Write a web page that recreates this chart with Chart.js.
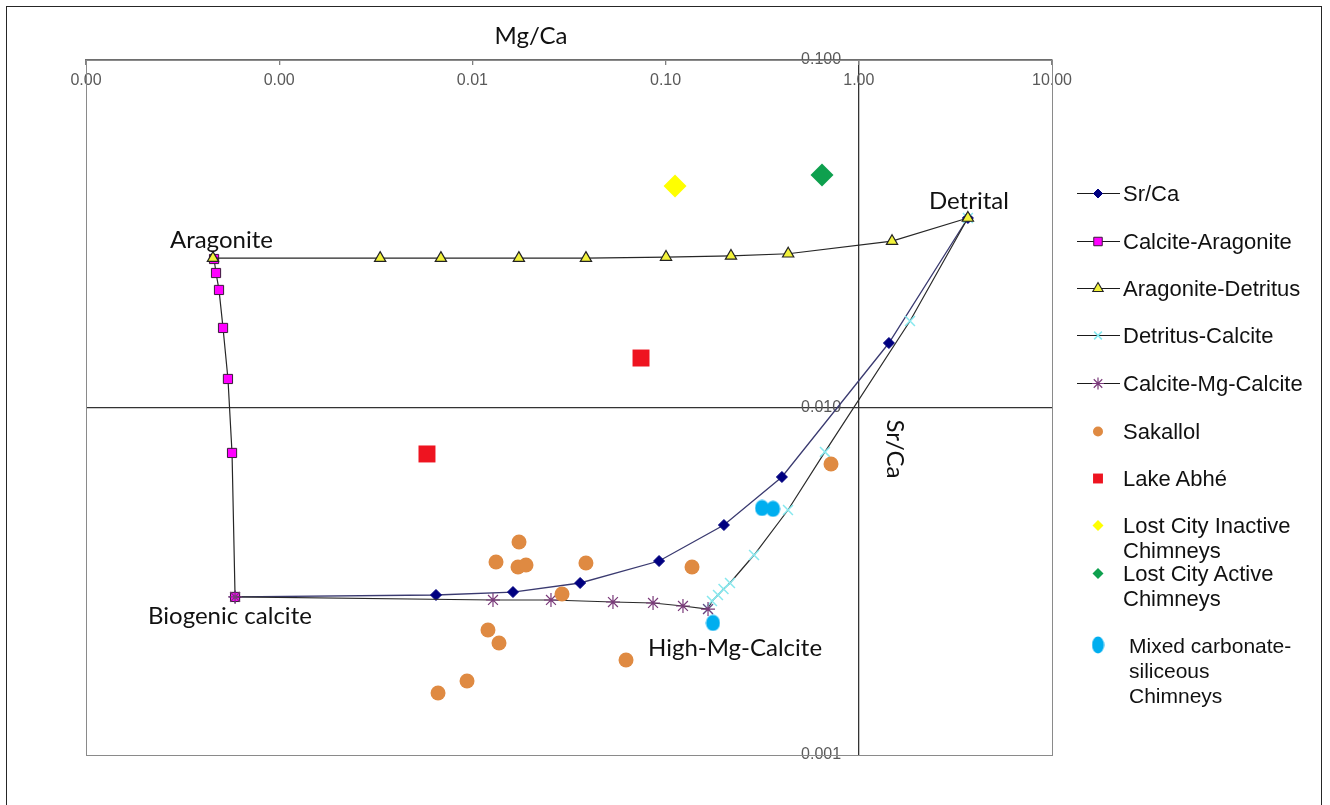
<!DOCTYPE html>
<html><head><meta charset="utf-8">
<script src="https://cdn.jsdelivr.net/npm/chart.js@4.4.1/dist/chart.umd.min.js"></script>
<style>
html,body{margin:0;padding:0;background:#fff;overflow:hidden;}
#wrap{position:relative;width:1330px;height:805px;}
#frame{position:absolute;left:6px;top:6px;width:1316px;height:840px;border:1px solid #262626;box-sizing:border-box;}
canvas#c{position:absolute;left:0;top:0;}
.lg{position:absolute;left:1074px;font-family:'Liberation Sans',Arial,sans-serif;font-size:22px;color:#111;}
.lg canvas{position:absolute;left:0;top:0;}
.lg span{position:absolute;left:49px;top:0;white-space:nowrap;line-height:25px;}
</style></head><body>
<div id="wrap"><div id="frame"></div><canvas id="c" width="1330" height="805"></canvas><div id="legend"></div></div>
<script>
// ---- tick values ----
const xTickValues = [0.0001, 0.001, 0.01, 0.1, 1, 10];
const yTickValues = [0.001, 0.01, 0.1];

// ---- mixing lines (Mg/Ca, Sr/Ca) ----
const srcaMg = [5.91e-4, 6.48e-3, 0.01622, 0.0361, 0.0925, 0.2004, 0.400, 1.432, 3.67];
const srcaSr = [0.00285, 0.002887, 0.002944, 0.003126, 0.003616, 0.00459, 0.00631, 0.01533, 0.0351];

const calcAragMg = [4.60e-4, 4.71e-4, 4.88e-4, 5.12e-4, 5.43e-4, 5.70e-4, 5.91e-4];
const calcAragSr = [0.02675, 0.02438, 0.02179, 0.01694, 0.01208, 0.0074, 0.00285];

const aragDetMg = [4.54e-4, 3.33e-3, 6.87e-3, 0.0174, 0.0387, 0.1005, 0.218, 0.431, 1.486, 3.67];
const aragDetSr = [0.0269, 0.0269, 0.0269, 0.0269, 0.0269, 0.0271, 0.0273, 0.0277, 0.0301, 0.0351];

const detCalcMg = [0.1658, 0.1738, 0.1867, 0.1994, 0.2154, 0.2869, 0.430, 0.668, 1.841, 3.67];
const detCalcSr = [0.00263, 0.002774, 0.002887, 0.003004, 0.003126, 0.003763, 0.00507, 0.00745, 0.01774, 0.0351];

const calcMgCalcMg = [5.91e-4, 0.01278, 0.02551, 0.0534, 0.0861, 0.1230, 0.1658];
const calcMgCalcSr = [0.00285, 0.002793, 0.002793, 0.002756, 0.002738, 0.002684, 0.00263];

// ---- samples ----
const sakallolMg = [0.01743, 0.01325, 0.01722, 0.01894, 0.0387, 0.1370, 0.0291, 0.01204, 0.01373, 0.0624, 0.00938, 0.00664, 0.718];
const sakallolSr = [0.00410, 0.003592, 0.003475, 0.003521, 0.003568, 0.003475, 0.002906, 0.002289, 0.00210, 0.001877, 0.001633, 0.001508, 0.00688];

const abheMg = [0.0746, 0.00582];
const abheSr = [0.01388, 0.00735];

const lcInactiveMg = [0.1119];
const lcInactiveSr = [0.0434];

const lcActiveMg = [0.645];
const lcActiveSr = [0.0467];

const mixedMg = [0.3155, 0.3597, 0.1758];
const mixedSr = [0.00514, 0.00511, 0.00240];

const pts = (xs, ys) => xs.map((x, i) => ({x: x, y: ys[i]}));

function ellipse(w, h, color) {
  const c = document.createElement('canvas');
  c.width = w; c.height = h;
  const g = c.getContext('2d');
  g.fillStyle = color;
  g.beginPath();
  g.ellipse(w / 2, h / 2, w / 2 - 0.5, h / 2 - 0.5, 0, 0, Math.PI * 2);
  g.fill();
  return c;
}
const mixedColor = '#00aeef';

const sansFont = "'Liberation Sans', Arial, sans-serif";
const titleFont = "Lato, 'Open Sans', sans-serif";

const datasets = [
  {label: 'Sr/Ca', data: pts(srcaMg, srcaSr), showLine: true, borderColor: '#3a3a70', borderWidth: 1.3,
   pointStyle: 'rectRot', pointRadius: 5.5, pointBackgroundColor: '#000080', pointBorderColor: '#000080', pointBorderWidth: 1, order: 6,
   lg: {line: true, style: 'rectRot', r: 4.5, fill: '#000080', stroke: '#000080', bw: 1}},
  {label: 'Calcite-Aragonite', data: pts(calcAragMg, calcAragSr), showLine: true, borderColor: '#262626', borderWidth: 1.2,
   pointStyle: 'rect', pointRadius: 6.5, pointBackgroundColor: '#ff00ff', pointBorderColor: '#3a1a3a', pointBorderWidth: 1, order: 4,
   lg: {line: true, style: 'rect', r: 6, fill: '#ff00ff', stroke: '#3a1a3a', bw: 1}},
  {label: 'Aragonite-Detritus', data: pts(aragDetMg, aragDetSr), showLine: true, borderColor: '#262626', borderWidth: 1.2,
   pointStyle: 'triangle', pointRadius: 6.5, pointBackgroundColor: '#f2f23a', pointBorderColor: '#222', pointBorderWidth: 1.2, order: 3,
   lg: {line: true, style: 'triangle', r: 6, fill: '#f2f23a', stroke: '#222', bw: 1.1}},
  {label: 'Detritus-Calcite', data: pts(detCalcMg, detCalcSr), showLine: true, borderColor: '#2a2a2a', borderWidth: 1.2,
   pointStyle: 'crossRot', pointRadius: 7, pointBackgroundColor: '#86e8ee', pointBorderColor: '#86e8ee', pointBorderWidth: 1.5, order: 5,
   lg: {line: true, style: 'crossRot', r: 5.5, fill: '#86e8ee', stroke: '#86e8ee', bw: 1.5}},
  {label: 'Calcite-Mg-Calcite', data: pts(calcMgCalcMg, calcMgCalcSr), showLine: true, borderColor: '#2a2a2a', borderWidth: 1.2,
   pointStyle: 'star', pointRadius: 7, pointBackgroundColor: '#7a3a7a', pointBorderColor: '#7a3a7a', pointBorderWidth: 1.2, order: 2,
   lg: {line: true, style: 'star', r: 6, fill: '#7a3a7a', stroke: '#7a3a7a', bw: 1.2}},
  {label: 'Sakallol', data: pts(sakallolMg, sakallolSr), showLine: false,
   pointStyle: 'circle', pointRadius: 7.5, pointBackgroundColor: '#df8a42', pointBorderColor: '#df8a42', pointBorderWidth: 0, order: 1,
   lg: {line: false, style: 'circle', r: 5, fill: '#df8a42', stroke: '#df8a42', bw: 0}},
  {label: 'Lake Abhé', data: pts(abheMg, abheSr), showLine: false,
   pointStyle: 'rect', pointRadius: 12, pointBackgroundColor: '#ee1420', pointBorderColor: '#ee1420', pointBorderWidth: 0, order: 1,
   lg: {line: false, style: 'rect', r: 7, fill: '#ee1420', stroke: '#ee1420', bw: 0}},
  {label: ['Lost City Inactive', 'Chimneys'], data: pts(lcInactiveMg, lcInactiveSr), showLine: false,
   pointStyle: 'rectRot', pointRadius: 11.5, pointBackgroundColor: '#ffff00', pointBorderColor: '#ffff00', pointBorderWidth: 0, order: 1,
   lg: {line: false, style: 'rectRot', r: 5.5, fill: '#ffff00', stroke: '#ffff00', bw: 0}},
  {label: ['Lost City Active', 'Chimneys'], data: pts(lcActiveMg, lcActiveSr), showLine: false,
   pointStyle: 'rectRot', pointRadius: 11.5, pointBackgroundColor: '#0ea04e', pointBorderColor: '#0ea04e', pointBorderWidth: 0, order: 1,
   lg: {line: false, style: 'rectRot', r: 5.5, fill: '#0ea04e', stroke: '#0ea04e', bw: 0}},
  {label: ['Mixed carbonate-', 'siliceous', 'Chimneys'], data: pts(mixedMg, mixedSr), showLine: false,
   pointStyle: ellipse(15, 17, mixedColor), pointRadius: 8, pointBackgroundColor: mixedColor, pointBorderWidth: 0, order: 1,
   lg: {line: false, img: ellipse(13, 18, mixedColor)}}
];

// legend layout (first-line centre y, text left offset, font size)
const legendCentres = [193, 241, 288, 335, 383, 431, 478, 525, 573, 645];
const legendTextLeft = [49, 49, 49, 49, 49, 49, 49, 49, 49, 55];
const legendFontSize = [22, 22, 22, 22, 22, 22, 22, 22, 22, 21];

const frame = {
  id: 'plotFrame',
  beforeDatasetsDraw(chart) {
    const {ctx, chartArea: a} = chart;
    ctx.save();
    ctx.strokeStyle = '#8a8a8a';
    ctx.lineWidth = 1;
    ctx.strokeRect(Math.round(a.left) + 0.5, Math.round(a.top) + 0.5, Math.round(a.right - a.left), Math.round(a.bottom - a.top));
    ctx.restore();
  }
};

const notes = [
  {text: 'Aragonite', ds: 2, idx: 0, dx: -43, dy: -18, align: 'left'},
  {text: 'Detrital', ds: 2, idx: -1, dx: 1, dy: -17, align: 'center'},
  {text: 'Biogenic calcite', ds: 1, idx: -1, dx: -87, dy: 19, align: 'left'},
  {text: 'High-Mg-Calcite', ds: 4, idx: -1, dx: -60, dy: 39, align: 'left'}
];

const texts = {
  id: 'texts',
  afterDatasetsDraw(chart) {
    const ctx = chart.ctx;
    ctx.save();
    ctx.fillStyle = '#111';
    ctx.font = '24px ' + titleFont;
    ctx.textBaseline = 'middle';
    notes.forEach(n => {
      const meta = chart.getDatasetMeta(n.ds);
      const el = meta.data[n.idx < 0 ? meta.data.length + n.idx : n.idx];
      ctx.textAlign = n.align;
      ctx.fillText(n.text, el.x + n.dx, el.y + n.dy);
    });
    // axis titles
    ctx.textAlign = 'center';
    ctx.fillText('Mg/Ca', 531, 36);
    const xs = chart.scales.x;
    ctx.translate(xs.getPixelForValue(1) + 36, 449);
    ctx.rotate(Math.PI / 2);
    ctx.fillText('Sr/Ca', 0, 0);
    ctx.restore();
  }
};

const chart = new Chart(document.getElementById('c'), {
  type: 'scatter',
  data: {datasets: datasets},
  options: {
    responsive: false, animation: false, devicePixelRatio: 1,
    layout: {padding: {left: 86, top: 60, right: 278, bottom: 50}},
    plugins: {legend: {display: false}, tooltip: {enabled: false}},
    elements: {line: {tension: 0}},
    scales: {
      x: {
        type: 'logarithmic', position: 'top', min: 0.0001, max: 10,
        afterBuildTicks: s => { s.ticks = xTickValues.map(v => ({value: v})); },
        afterFit: s => { s.height = 0; },
        ticks: {mirror: true, padding: 11, color: '#595959', autoSkip: false, maxRotation: 0,
          font: {family: sansFont, size: 16}, callback: v => Number(v).toFixed(2)},
        grid: {color: c => (c.tick && c.tick.value === 1) ? '#333333' : 'rgba(0,0,0,0)',
          tickColor: '#808080', tickLength: -5, lineWidth: 1.3},
        border: {display: true, color: '#6e6e6e', width: 1.3}
      },
      y: {
        // labels sit just left of the Mg/Ca = 1 crossing line
        type: 'logarithmic', position: {x: 0.81}, min: 0.001, max: 0.1,
        afterBuildTicks: s => { s.ticks = yTickValues.map(v => ({value: v})); },
        ticks: {padding: 0, color: '#595959', autoSkip: false,
          font: {family: sansFont, size: 16}, callback: v => Number(v).toFixed(3)},
        grid: {color: c => (c.tick && c.tick.value === 0.01) ? '#333333' : 'rgba(0,0,0,0)',
          drawTicks: false, lineWidth: 1.3},
        border: {display: false}
      }
    }
  },
  plugins: [frame, texts]
});

// ---- HTML legend built from the datasets ----
const legendEl = document.getElementById('legend');
datasets.forEach((ds, i) => {
  const item = document.createElement('div');
  item.className = 'lg';
  item.style.top = (legendCentres[i] - 12) + 'px';
  const cv = document.createElement('canvas');
  cv.width = 48; cv.height = 24;
  const g = cv.getContext('2d');
  const L = ds.lg;
  if (L.line) {
    g.strokeStyle = '#1a1a1a'; g.lineWidth = 1.2;
    g.beginPath(); g.moveTo(3, 12.5); g.lineTo(46, 12.5); g.stroke();
  }
  if (L.img) {
    g.drawImage(L.img, 24 - L.img.width / 2, 12 - L.img.height / 2);
  } else {
    g.fillStyle = L.fill; g.strokeStyle = L.stroke; g.lineWidth = L.bw;
    Chart.helpers.drawPoint(g, {pointStyle: L.style, radius: L.r, rotation: 0, borderWidth: L.bw}, 24, 12.5);
  }
  item.appendChild(cv);
  const sp = document.createElement('span');
  sp.style.left = legendTextLeft[i] + 'px';
  sp.style.fontSize = legendFontSize[i] + 'px';
  const lines = Array.isArray(ds.label) ? ds.label : [ds.label];
  sp.innerHTML = lines.map(t => t.replace(/&/g, '&amp;').replace(/</g, '&lt;')).join('<br>');
  item.appendChild(sp);
  legendEl.appendChild(item);
});
</script>
</body></html>
